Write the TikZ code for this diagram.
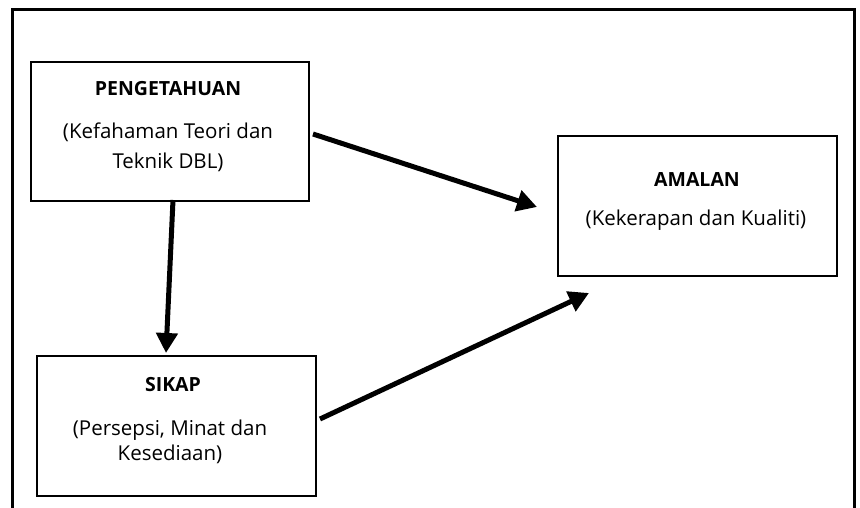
\documentclass[tikz,border=0pt]{standalone}
\usepackage{fontspec}
\setmainfont{Open Sans}
\usetikzlibrary{arrows.meta}
\begin{document}
\begin{tikzpicture}[x=1pt,y=-1pt,
  box/.style={draw,line width=2pt,inner sep=0pt,anchor=north west},
  ttl/.style={font=\fontsize{19.5}{22}\selectfont\bfseries},
  txt/.style={font=\fontsize{20.5}{24}\selectfont},
  conn/.style={line width=5pt,-{Triangle[length=20pt,width=21pt]}}]
\useasboundingbox (0,0) rectangle (860,508);
\draw[line width=3pt] (12,508) -- (12,10) -- (854,10) -- (854,508);
% boxes
\node[box,minimum width=278pt,minimum height=139pt] (peng) at (30,61) {};
\node[box,minimum width=279pt,minimum height=140pt] (amal) at (557,135) {};
\node[box,minimum width=279pt,minimum height=140pt] (sikap) at (36,355) {};
% texts
\node[ttl] (t1) at (168,89) {PENGETAHUAN};
\node[txt] (t1a) at (168,132) {(Kefahaman Teori dan};
\node[txt] (t1b) at (168,162) {Teknik DBL)};
\node[ttl] (t2) at (697,180) {AMALAN};
\node[txt] (t2a) at (696,220) {(Kekerapan dan Kualiti)};
\node[ttl] (t3) at (173,385) {SIKAP};
\node[txt] (t3a) at (170,430) {(Persepsi, Minat dan};
\node[txt] (t3b) at (170,454) {Kesediaan)};
% connector end points
\coordinate (c1s) at (313,134);
\coordinate (c1e) at (537,207);
\coordinate (c2s) at (320,419);
\coordinate (c2e) at (589,293);
\coordinate (c3s) at (173,200);
\coordinate (c3e) at (166,353);
\draw[conn] (c1s) -- (c1e);
\draw[conn] (c2s) -- (c2e);
\draw[conn] (c3s) -- (c3e);
\end{tikzpicture}
\end{document}
